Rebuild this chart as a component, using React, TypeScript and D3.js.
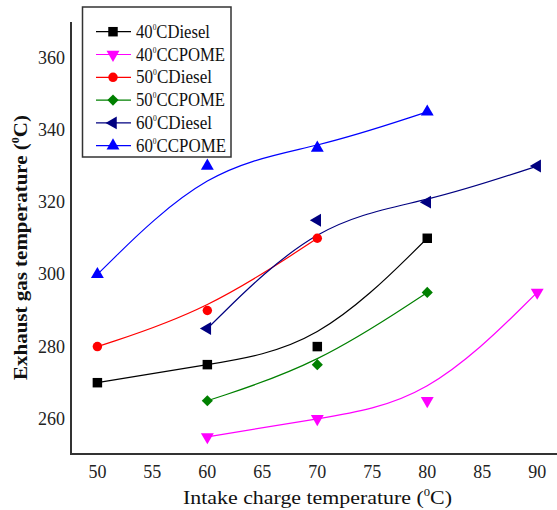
import React from "react";
import * as d3 from "d3";

// chart size, same as the reference picture
const W = 557;
const H = 510;

// tick labels
const xTicks = [50, 55, 60, 65, 70, 75, 80, 85, 90];
const yTicks = [260, 280, 300, 320, 340, 360];

// series (intake temp -> exhaust temp)
const x40Diesel = [50, 60, 70, 80];
const y40Diesel = [270, 275, 280, 310];
const x40Cpome = [60, 70, 80, 90];
const y40Cpome = [255, 260, 265, 295];
const x50Diesel = [50, 60, 70];
const y50Diesel = [280, 290, 310];
const x50Cpome = [60, 70, 80];
const y50Cpome = [265, 275, 295];
const x60Diesel = [60, 70, 80, 90];
const y60Diesel = [285, 315, 320, 330];
const x60Cpome = [50, 60, 70, 80];
const y60Cpome = [300, 330, 335, 345];

const temps = ["40", "40", "50", "50", "60", "60"];
const fuels = ["Diesel", "CPOME", "Diesel", "CPOME", "Diesel", "CPOME"];
const colors = ["#000000", "#ff00ff", "#ff0000", "#008000", "#000080", "#0000ff"];
const legendWidths = [74, 89, 76, 89, 76, 90];

const FONT = "'Liberation Serif', 'Times New Roman', serif";

type Series = { xs: number[]; ys: number[]; color: string; marker: string };

const series: Series[] = [
  { xs: x40Diesel, ys: y40Diesel, color: colors[0], marker: "square" },
  { xs: x40Cpome, ys: y40Cpome, color: colors[1], marker: "down" },
  { xs: x50Diesel, ys: y50Diesel, color: colors[2], marker: "circle" },
  { xs: x50Cpome, ys: y50Cpome, color: colors[3], marker: "diamond" },
  { xs: x60Diesel, ys: y60Diesel, color: colors[4], marker: "left" },
  { xs: x60Cpome, ys: y60Cpome, color: colors[5], marker: "up" },
];

function Marker({ kind, x, y, color }: { kind: string; x: number; y: number; color: string }) {
  let type: d3.SymbolType = d3.symbolSquare;
  let size = 90;
  let rot = 0;
  if (kind === "circle") { type = d3.symbolCircle; size = 70; }
  if (kind === "diamond") { type = d3.symbolSquare; size = 62; rot = 45; }
  if (kind === "up") { type = d3.symbolTriangle; size = 72; }
  if (kind === "down") { type = d3.symbolTriangle; size = 72; rot = 180; }
  if (kind === "left") { type = d3.symbolTriangle; size = 72; rot = -90; }
  const path = d3.symbol().type(type).size(size)() as string;
  return <path d={path} fill={color} transform={`translate(${x},${y}) rotate(${rot})`} />;
}

export default function App() {
  const x = d3.scaleLinear().domain([47.6, 91.8]).range([71, 557]);
  const y = d3.scaleLinear().domain([250.25, 369.9]).range([454, 22]);

  // smooth B-spline connecting line, like the original plot
  const line = d3
    .line<[number, number]>()
    .x((d) => x(d[0]))
    .y((d) => y(d[1]))
    .curve(d3.curveBasis);

  return (
    <svg width={W} height={H} style={{ position: "absolute", left: 0, top: 0, background: "#fff" }}>
      <rect width={W} height={H} fill="#fff" />

      {/* curves */}
      {series.map((s, i) => (
        <path
          key={"l" + i}
          d={line(s.xs.map((v, j) => [v, s.ys[j]] as [number, number])) as string}
          fill="none"
          stroke={s.color}
          strokeWidth={1.2}
        />
      ))}

      {/* markers */}
      {series.map((s, i) =>
        s.xs.map((v, j) => (
          <Marker key={"m" + i + "-" + j} kind={s.marker} x={x(v)} y={y(s.ys[j])} color={s.color} />
        ))
      )}

      {/* axes: left and bottom only */}
      <line x1={71} x2={71} y1={22} y2={455} stroke="#333" strokeWidth={2} />
      <line x1={70} x2={557} y1={454} y2={454} stroke="#333" strokeWidth={2} />

      {xTicks.map((t) => (
        <text key={"xt" + t} x={x(t)} y={478} textAnchor="middle" fontFamily={FONT} fontSize={18} fill="#222">
          {t}
        </text>
      ))}
      {yTicks.map((t) => (
        <text key={"yt" + t} x={65} y={y(t) + 6} textAnchor="end" fontFamily={FONT} fontSize={18} fill="#222">
          {t}
        </text>
      ))}

      {/* axis titles */}
      <text x={183} y={504} fontFamily={FONT} fontSize={19} fill="#111" textLength={269} lengthAdjust="spacingAndGlyphs">
        Intake charge temperature (<tspan fontSize={11} dy={-8}>0</tspan>
        <tspan dy={8}>C)</tspan>
      </text>
      <text
        transform="translate(27,380) rotate(-90)"
        fontFamily={FONT}
        fontSize={19}
        fontWeight="bold"
        fill="#111"
        textLength={265}
        lengthAdjust="spacingAndGlyphs"
      >
        Exhaust gas temperature (<tspan fontSize={11} dy={-8}>0</tspan>
        <tspan dy={8}>C)</tspan>
      </text>

      {/* legend */}
      <rect x={82.5} y={7} width={148.5} height={150} fill="#fff" stroke="#333" strokeWidth={1.5} />
      {temps.map((t, i) => {
        const ly = 31.7 + i * 22.8;
        return (
          <g key={"lg" + i}>
            <line x1={96} x2={131} y1={ly} y2={ly} stroke={colors[i]} strokeWidth={1.2} />
            <Marker kind={series[i].marker} x={113} y={ly} color={colors[i]} />
            <text
              x={136}
              y={ly + 6}
              fontFamily={FONT}
              fontSize={18}
              fill="#111"
              textLength={legendWidths[i]}
              lengthAdjust="spacingAndGlyphs"
            >
              {t}
              <tspan fontSize={8} dy={-8}>0</tspan>
              <tspan dy={8}>{"C" + fuels[i]}</tspan>
            </text>
          </g>
        );
      })}
    </svg>
  );
}
